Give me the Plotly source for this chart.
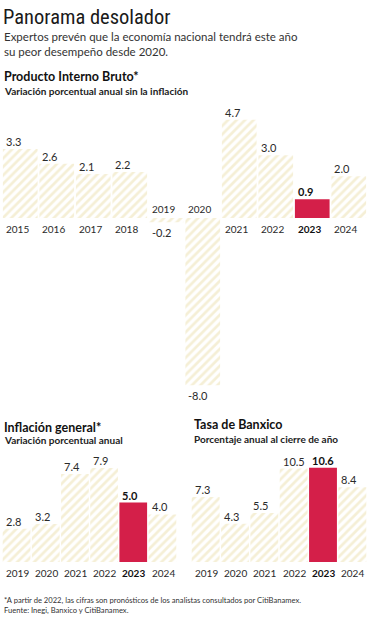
import plotly.graph_objects as go

W, H = 368, 620

# ---------------- data ----------------
pib_years = ["2015", "2016", "2017", "2018", "2019", "2020", "2021", "2022", "2023", "2024"]
pib_values = [3.3, 2.6, 2.1, 2.2, -0.2, -8.0, 4.7, 3.0, 0.9, 2.0]

inf_years = ["2019", "2020", "2021", "2022", "2023", "2024"]
inf_values = [2.8, 3.2, 7.4, 7.9, 5.0, 4.0]

tasa_years = ["2019", "2020", "2021", "2022", "2023", "2024"]
tasa_values = [7.3, 4.3, 5.5, 10.5, 10.6, 8.4]

highlight_year = "2023"

title = "Panorama desolador"
subtitle = "Expertos prevén que la economía nacional tendrá este año<br>su peor desempeño desde 2020."
pib_title = "Producto Interno Bruto*"
pib_sub = "Variación porcentual anual sin la inflación"
inf_title = "Inflación general*"
inf_sub = "Variación porcentual anual"
tasa_title = "Tasa de Banxico"
tasa_sub = "Porcentaje anual al cierre de año"
footnote = ("*A partir de 2022, las cifras son pronósticos de los analistas consultados por CitiBanamex."
            "<br>Fuente: Inegi, Banxico y CitiBanamex.")

# ---------------- style ----------------
BAR_BG = "#f5efd6"
BAR_FG = "#d6c98c"
RED = "#d41f49"
TXT = "#2a2a2a"
FONT = "Lato"
TITLE_FONT = "Liberation Sans Narrow, Roboto Condensed, DejaVu Sans Condensed, Arial Narrow, sans-serif"

def px_x(p):
    return p / W

def px_y(p):
    return 1 - p / H

fig = go.Figure()

def add_chart(idx, years, values, x0, x1, ytop, ybase, ybot, scale, gap):
    xa = "x" if idx == 1 else f"x{idx}"
    ya = "y" if idx == 1 else f"y{idx}"
    colors = [RED if y == highlight_year else BAR_BG for y in years]
    fg = [RED if y == highlight_year else BAR_FG for y in years]
    shapes = ["" if y == highlight_year else "/" for y in years]
    fig.add_trace(go.Bar(
        x=list(range(len(years))), y=values, xaxis=xa, yaxis=ya,
        marker=dict(color=colors, line=dict(width=0),
                    pattern=dict(shape=shapes, fgcolor=fg, bgcolor=colors,
                                 size=6, solidity=0.45, fillmode="replace")),
        hoverinfo="skip", showlegend=False,
    ))
    n = len(years)
    ymax = (ybase - ytop) / scale
    ymin = -(ybot - ybase) / scale
    lay = {}
    lay["xaxis" if idx == 1 else f"xaxis{idx}"] = dict(
        domain=[px_x(x0), px_x(x1)], range=[-0.5, n - 0.5], visible=False,
        anchor=ya, fixedrange=True)
    lay["yaxis" if idx == 1 else f"yaxis{idx}"] = dict(
        domain=[px_y(ybot), px_y(ytop)], range=[ymin, ymax], visible=False,
        anchor=xa, fixedrange=True)
    fig.update_layout(**lay)
    anns = []
    for i, (yr, v) in enumerate(zip(years, values)):
        bold = yr == highlight_year
        vt = f"{v:.1f}"
        yt = yr
        if bold:
            vt = f"<b>{vt}</b>"
            yt = f"<b>{yt}</b>"
        col = "#111111" if bold else TXT
        xl = i - 0.5 + gap / 2
        if v >= 0:
            anns.append(dict(x=xl, y=v, xref=xa, yref=ya, text=vt, showarrow=False,
                             xanchor="left", yanchor="bottom", xshift=1, yshift=-1,
                             font=dict(family=FONT, size=11, color=col)))
            anns.append(dict(x=xl, y=0, xref=xa, yref=ya, text=yt, showarrow=False,
                             xanchor="left", yanchor="top", xshift=1, yshift=-3,
                             font=dict(family=FONT, size=10, color=col)))
        else:
            anns.append(dict(x=xl, y=v, xref=xa, yref=ya, text=vt, showarrow=False,
                             xanchor="left", yanchor="top", xshift=1, yshift=-2,
                             font=dict(family=FONT, size=11, color=col)))
            anns.append(dict(x=xl, y=0, xref=xa, yref=ya, text=yt, showarrow=False,
                             xanchor="left", yanchor="bottom", xshift=1, yshift=1,
                             font=dict(family=FONT, size=10, color=col)))
    return anns

annotations = []
annotations += add_chart(1, pib_years, pib_values, 2, 367, 100, 218, 400, 20.9, 0.04)
annotations += add_chart(2, inf_years, inf_values, 2, 177, 450, 562, 562, 11.9, 0.05)
annotations += add_chart(3, tasa_years, tasa_values, 191, 367, 450, 562, 562, 8.9, 0.05)

def txt(text, x, y, size, color="#111111", family=FONT, anchor="middle"):
    return dict(text=text, x=px_x(x), y=px_y(y), xref="paper", yref="paper",
                xanchor="left", yanchor=anchor, showarrow=False, align="left",
                font=dict(family=family, size=size, color=color))

annotations += [
    txt(title, 1, 17, 20.5, "#1a1a1a", TITLE_FONT),
    txt(subtitle, 2, 44, 11.5, "#333333"),
    txt(f"<b>{pib_title}</b>", 2, 77, 12.5, "#111111"),
    txt(f"<b>{pib_sub}</b>", 2, 91, 10, "#222222"),
    txt(f"<b>{inf_title}</b>", 2, 427, 12.5, "#111111"),
    txt(f"<b>{inf_sub}</b>", 2, 440, 10, "#222222"),
    txt(f"<b>{tasa_title}</b>", 192, 425, 12.5, "#111111"),
    txt(f"<b>{tasa_sub}</b>", 192, 439, 10, "#222222"),
    txt(footnote, 2, 605, 7.6, "#333333"),
]

fig.update_layout(
    width=W, height=H, margin=dict(l=0, r=0, t=0, b=0),
    paper_bgcolor="white", plot_bgcolor="rgba(0,0,0,0)",
    bargap=0.05, annotations=annotations, showlegend=False,
)
fig.write_html("out.html", config={"displayModeBar": False},
               post_script="document.body.style.margin='0';document.body.style.padding='0';")
